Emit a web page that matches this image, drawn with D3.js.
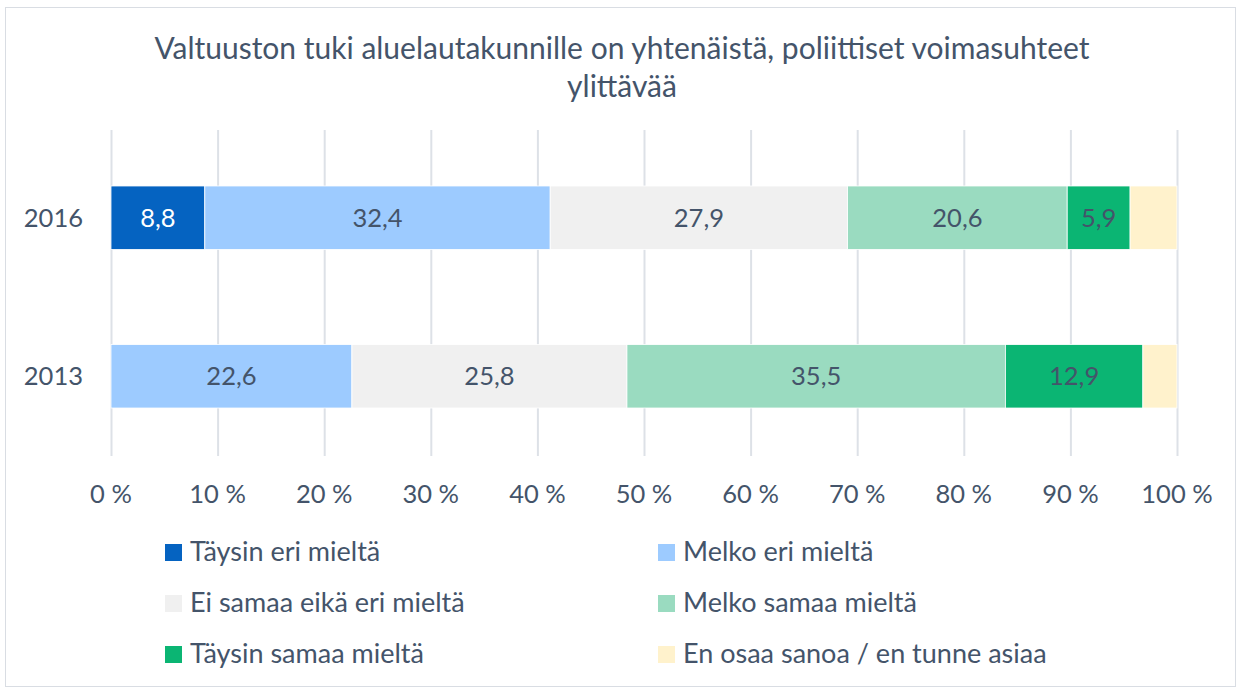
<!DOCTYPE html>
<html>
<head>
<meta charset="utf-8">
<script src="https://cdn.jsdelivr.net/npm/d3@7"></script>
<style>
  body { margin: 0; background: #fff; }
  text { font-family: Lato, "Open Sans", sans-serif; }
</style>
</head>
<body>
<script>
// Valtuuston tuki aluelautakunnille - stacked 100% bar chart

const years = ["2016", "2013"];
const categories = ["Täysin eri mieltä", "Melko eri mieltä", "Ei samaa eikä eri mieltä",
  "Melko samaa mieltä", "Täysin samaa mieltä", "En osaa sanoa / en tunne asiaa"];
const colors = ["#0563C1", "#9DCBFF", "#F0F0F0", "#9ADBC0", "#0BB573", "#FFF2CC"];
const values2016 = [8.8, 32.4, 27.9, 20.6, 5.9, 4.4];
const values2013 = [0, 22.6, 25.8, 35.5, 12.9, 3.2];
const ticks = [0, 10, 20, 30, 40, 50, 60, 70, 80, 90, 100];
const titleLines = ["Valtuuston tuki aluelautakunnille on yhtenäistä, poliittiset voimasuhteet", "ylittävää"];

const W = 1239, H = 688;
const textColor = "#44546A";

const svg = d3.select("body").append("svg")
  .attr("width", W)
  .attr("height", H);

// outer border
svg.append("rect")
  .attr("x", 5.5).attr("y", 7.5)
  .attr("width", W - 9).attr("height", H - 9)
  .attr("fill", "#fff")
  .attr("stroke", "#D9DDE3");

// title
svg.append("g").selectAll("text")
  .data(titleLines)
  .join("text")
    .attr("x", 622)
    .attr("y", (d, i) => 59 + i * 38)
    .attr("text-anchor", "middle")
    .attr("font-size", 30)
    .attr("fill", textColor)
    .text(d => d);

const x = d3.scaleLinear().domain([0, 100]).range([111, 1177]);
const y = d3.scaleBand().domain(years).range([130, 464]).paddingInner(0.6).paddingOuter(0.353);

// gridlines
svg.append("g").selectAll("line")
  .data(ticks)
  .join("line")
    .attr("x1", d => x(d) + 0.5).attr("x2", d => x(d) + 0.5)
    .attr("y1", 130).attr("y2", 456)
    .attr("stroke", "#DDE1E7")
    .attr("stroke-width", 2);

// tick labels
svg.append("g").selectAll("text")
  .data(ticks)
  .join("text")
    .attr("x", d => x(d))
    .attr("y", 503)
    .attr("text-anchor", "middle")
    .attr("font-size", 25.5)
    .attr("fill", textColor)
    .text(d => d + " %");

// stacked data
const rows = [values2016, values2013].map((vals, i) => {
  const row = { year: years[i] };
  categories.forEach((c, j) => row[c] = vals[j]);
  return row;
});
const series = d3.stack().keys(categories)(rows);

const groups = svg.append("g").selectAll("g")
  .data(series)
  .join("g")
    .attr("fill", (d, i) => colors[i]);

groups.selectAll("rect")
  .data(d => d.filter(p => p[1] - p[0] > 0))
  .join("rect")
    .attr("x", d => x(d[0]))
    .attr("y", d => y(d.data.year))
    .attr("width", d => x(d[1]) - x(d[0]))
    .attr("height", y.bandwidth())
    .attr("stroke", "#fff")
    .attr("stroke-width", 0.8);

// data labels (not on the "en osaa sanoa" series)
groups.filter((d, i) => i < 5).selectAll("text")
  .data(d => d.filter(p => p[1] - p[0] > 0).map(p => ({ p, key: d.key })))
  .join("text")
    .attr("x", d => (x(d.p[0]) + x(d.p[1])) / 2)
    .attr("y", d => y(d.p.data.year) + y.bandwidth() / 2 + 9)
    .attr("text-anchor", "middle")
    .attr("font-size", 25.5)
    .attr("fill", d => d.key === categories[0] ? "#fff" : textColor)
    .text(d => d3.format(".1f")(d.p[1] - d.p[0]).replace(".", ","));

// year labels
svg.append("g").selectAll("text")
  .data(years)
  .join("text")
    .attr("x", 83)
    .attr("y", d => y(d) + y.bandwidth() / 2 + 9)
    .attr("text-anchor", "end")
    .attr("font-size", 25.5)
    .attr("fill", textColor)
    .text(d => d);

// legend
const legend = svg.append("g").selectAll("g")
  .data(categories)
  .join("g")
    .attr("transform", (d, i) => `translate(${i % 2 ? 658 : 165},${544 + Math.floor(i / 2) * 51})`);

legend.append("rect")
  .attr("width", 17).attr("height", 17)
  .attr("fill", (d, i) => colors[i]);

legend.append("text")
  .attr("x", 25)
  .attr("y", 17)
  .attr("font-size", 27)
  .attr("fill", textColor)
  .text(d => d);
</script>
</body>
</html>
